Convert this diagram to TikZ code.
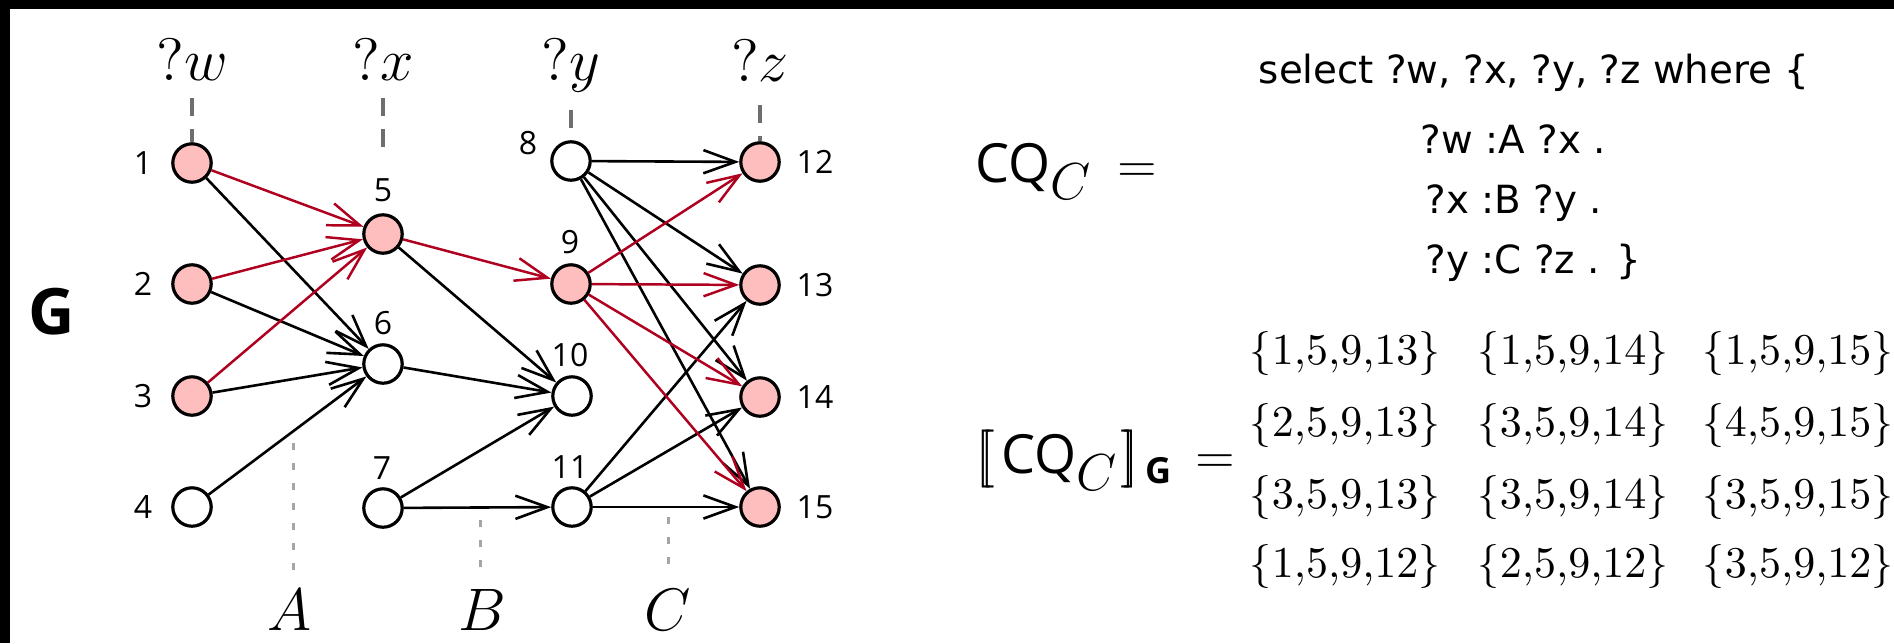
\RequirePackage{fix-cm}
\documentclass[tikz,border=0pt]{standalone}
\usepackage{fontspec}
\newfontfamily\osans{Open Sans}
\newfontfamily\dsans{DejaVu Sans}
\usetikzlibrary{arrows.meta}
\definecolor{myred}{RGB}{176,0,32}
\definecolor{mypink}{RGB}{255,190,190}
\definecolor{dashgray}{RGB}{110,110,110}
\definecolor{dotgray}{RGB}{165,165,165}
\newcommand{\lsem}{\mathopen{[\mkern-3.8mu[}}
\newcommand{\rsem}{\mathclose{]\mkern-3.8mu]}}
\begin{document}
\begin{tikzpicture}[x=0.25pt,y=-0.25pt,
  vtx/.style={circle,draw=black,line width=0.8pt,minimum size=9.6pt,inner sep=0pt,fill=white},
  hit/.style={vtx,fill=mypink},
  lbl/.style={font=\osans\fontsize{8}{9}\selectfont,inner sep=0pt},
  edge/.style={line width=0.65pt,-{Straight Barb[length=8pt,width=5.8pt]}},
  redge/.style={edge,draw=myred,line width=0.62pt},
  vardash/.style={draw=dashgray,line width=0.9pt,dash pattern=on 4.5pt off 3.25pt},
  reldot/.style={draw=dotgray,line width=0.75pt,dash pattern=on 1.75pt off 3.25pt},
  bigm/.style={font=\fontsize{15}{18}\selectfont,inner sep=0pt,anchor=base},
  qtext/.style={font=\dsans\fontsize{9.7}{12}\selectfont,inner sep=0pt,anchor=base west},
  settext/.style={font=\fontsize{11}{13}\selectfont,inner sep=0pt,anchor=west},
  eqtext/.style={font=\fontsize{13}{15}\selectfont,inner sep=0pt,anchor=base west},
]
\useasboundingbox (0,0) rectangle (1894,643);
\fill[black] (0,0) rectangle (1894,643);
\fill[white] (10,9) rectangle (1894,643);

% vertices
\node[hit] (n1) at (192,163) {};
\node[hit] (n2) at (192,284) {};
\node[hit] (n3) at (192,396) {};
\node[vtx] (n4) at (192,507) {};
\node[hit] (n5) at (383,234) {};
\node[vtx] (n6) at (383,364) {};
\node[vtx] (n7) at (383,508) {};
\node[vtx] (n8) at (571,161) {};
\node[hit] (n9) at (571,284) {};
\node[vtx] (n10) at (572,396) {};
\node[vtx] (n11) at (572,507) {};
\node[hit] (n12) at (760,162) {};
\node[hit] (n13) at (760,285) {};
\node[hit] (n14) at (760,397) {};
\node[hit] (n15) at (760,507) {};

% vertex labels
\node[lbl] (l1) at (143,163) {1};
\node[lbl] (l2) at (143,284) {2};
\node[lbl] (l3) at (143,396) {3};
\node[lbl] (l4) at (143,507) {4};
\node[lbl] (l5) at (383,190) {5};
\node[lbl] (l6) at (383,323) {6};
\node[lbl] (l7) at (382,468) {7};
\node[lbl] (l8) at (528,143) {8};
\node[lbl] (l9) at (570,242) {9};
\node[lbl] (l10) at (570,355) {10};
\node[lbl] (l11) at (570,467) {11};
\node[lbl] (l12) at (815,162) {12};
\node[lbl] (l13) at (815,285) {13};
\node[lbl] (l14) at (815,397) {14};
\node[lbl] (l15) at (815,507) {15};

% variable labels
\node[bigm] (vw) at (192,80) {$?w$};
\node[bigm] (vx) at (383,80) {$?x$};
\node[bigm] (vy) at (571,80) {$?y$};
\node[bigm] (vz) at (760,81) {$?z$};
\coordinate (tw) at (192,98);
\coordinate (tx) at (383,98);
\coordinate (txe) at (383,148);
\coordinate (ty) at (571,110);
\coordinate (tz) at (760,105);
\draw[vardash] (tw) -- (n1);
\draw[vardash] (tx) -- (txe);
\draw[vardash] (ty) -- (n8);
\draw[vardash] (tz) -- (n12);

% relation labels
\node[bigm] (rA) at (290,630) {$A$};
\node[bigm] (rB) at (482,630) {$B$};
\node[bigm] (rC) at (668,630) {$C$};
\coordinate (da1) at (293,443);
\coordinate (da2) at (293,570);
\coordinate (db1) at (480,520);
\coordinate (db2) at (480,570);
\coordinate (dc1) at (668,517);
\coordinate (dc2) at (668,567);
\draw[reldot] (da1) -- (da2);
\draw[reldot] (db1) -- (db2);
\draw[reldot] (dc1) -- (dc2);

\node[font=\osans\bfseries\fontsize{16}{18}\selectfont,inner sep=0pt] (G) at (52,312) {G};

% black edges
\draw[edge] (n1) -- (n6);
\draw[edge] (n2) -- (n6);
\draw[edge] (n3) -- (n6);
\draw[edge] (n4) -- (n6);
\draw[edge] (n5) -- (n10);
\draw[edge] (n6) -- (n10);
\draw[edge] (n7) -- (n10);
\draw[edge] (n7) -- (n11);
\draw[edge] (n8) -- (n12);
\draw[edge] (n8) -- (n13);
\draw[edge] (n8) -- (n14);
\draw[edge] (n8) -- (n15);
\draw[edge] (n11) -- (n13);
\draw[edge] (n11) -- (n14);
\draw[edge] (n11) -- (n15);
% red edges
\draw[redge] (n1) -- (n5);
\draw[redge] (n2) -- (n5);
\draw[redge] (n3) -- (n5);
\draw[redge] (n5) -- (n9);
\draw[redge] (n9) -- (n12);
\draw[redge] (n9) -- (n13);
\draw[redge] (n9) -- (n14);
\draw[redge] (n9) -- (n15);

% query
\node[eqtext] (cq) at (975,182) {{\osans\fontsize{13.5}{15}\selectfont CQ}$_{\textstyle C}$\hspace{6pt}$=$};
\node[qtext] (q0) at (1258,83) {select ?w, ?x, ?y, ?z where \{};
\node[qtext] (q1) at (1420,153) {?w :A ?x .};
\node[qtext] (q2) at (1425,213) {?x :B ?y .};
\node[qtext] (q3) at (1425,273) {?y :C ?z . \}};

% answers
\node[eqtext] (sem) at (975,473) {{\fontsize{14.5}{16}\selectfont$\lsem$}\hspace{1.5pt}{\osans\fontsize{13.5}{15}\selectfont CQ}$_{\textstyle C}$\hspace{0.5pt}{\fontsize{14.5}{16}\selectfont$\rsem$}\hspace{1.5pt}\raisebox{-2.5pt}{\osans\bfseries\fontsize{9}{10}\selectfont G}\hspace{6pt}$=$};
\node[settext] (s11) at (1249,353) {$\{1{,}5{,}9{,}13\}$};
\node[settext] (s12) at (1477,353) {$\{1{,}5{,}9{,}14\}$};
\node[settext] (s13) at (1702,353) {$\{1{,}5{,}9{,}15\}$};
\node[settext] (s21) at (1249,425) {$\{2{,}5{,}9{,}13\}$};
\node[settext] (s22) at (1477,425) {$\{3{,}5{,}9{,}14\}$};
\node[settext] (s23) at (1702,425) {$\{4{,}5{,}9{,}15\}$};
\node[settext] (s31) at (1249,497) {$\{3{,}5{,}9{,}13\}$};
\node[settext] (s32) at (1477,497) {$\{3{,}5{,}9{,}14\}$};
\node[settext] (s33) at (1702,497) {$\{3{,}5{,}9{,}15\}$};
\node[settext] (s41) at (1249,566) {$\{1{,}5{,}9{,}12\}$};
\node[settext] (s42) at (1477,566) {$\{2{,}5{,}9{,}12\}$};
\node[settext] (s43) at (1702,566) {$\{3{,}5{,}9{,}12\}$};
\end{tikzpicture}
\end{document}
